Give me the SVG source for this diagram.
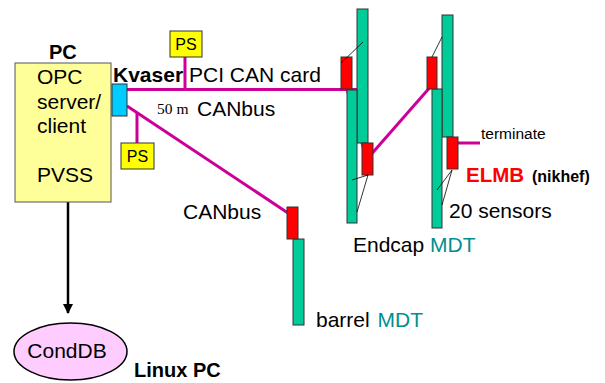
<svg xmlns="http://www.w3.org/2000/svg" width="605" height="383" viewBox="0 0 605 383">
<defs>
<style>
text{font-family:"Liberation Sans",Arial,sans-serif;fill:#000}
text.serif{font-family:"Liberation Serif","Times New Roman",serif}
.b{font-weight:bold}
.mdt{fill:#00CC99;stroke:#333;stroke-width:1}
.elmb{fill:#FF0000;stroke:#333;stroke-width:1}
.bus{stroke:#CC0099;stroke-width:3;fill:none}
.thin{stroke:#000;stroke-width:0.8;fill:none}
.ps{fill:#FFFF00;stroke:#333;stroke-width:1}
.teal{fill:#009090}
text.red{fill:#FF0000}
</style>
<marker id="ah" markerWidth="10" markerHeight="12" refX="9" refY="5" orient="auto" markerUnits="userSpaceOnUse">
<path d="M0,0 L10,5 L0,10 Z" fill="#000"/>
</marker>
</defs>
<rect width="605" height="383" fill="#fff"/>

<g id="connectors">
<line class="bus" x1="127" y1="89.5" x2="357" y2="89.5"/>
<line class="bus" x1="185" y1="57" x2="185" y2="89.5"/>
<line class="bus" x1="127" y1="106" x2="288" y2="213"/>
<line class="bus" x1="137" y1="113" x2="137" y2="143"/>
<line class="bus" x1="347" y1="89" x2="364" y2="150"/>
<line class="bus" x1="368" y1="158" x2="432" y2="85"/>
<line class="bus" x1="437" y1="89" x2="453" y2="143"/>
<line class="bus" x1="453" y1="143" x2="480" y2="143"/>
<line x1="68" y1="202" x2="68" y2="313" stroke="#000" stroke-width="2.5" marker-end="url(#ah)"/>
</g>

<g id="pc">
<rect x="15" y="63" width="96" height="139" fill="#FFFF99" stroke="#555" stroke-width="1"/>
<text x="49" y="59" class="b" font-size="20">PC</text>
<text x="37" y="84" font-size="21">OPC</text>
<text x="37" y="109" font-size="21">server/</text>
<text x="37" y="133" font-size="21">client</text>
<text x="37" y="182" font-size="21">PVSS</text>
</g>

<g id="kvaser">
<rect x="112" y="84" width="15" height="32" fill="#00CCFF" stroke="#333" stroke-width="1"/>
<text x="113" y="82" class="b" font-size="21">Kvaser</text>
<text x="189" y="82" font-size="21">PCI CAN card</text>
</g>

<g id="ps-top">
<rect class="ps" x="170" y="31" width="32" height="26"/>
<text x="186" y="50" font-size="16" text-anchor="middle">PS</text>
</g>

<g id="ps-bottom">
<rect class="ps" x="121" y="143" width="33" height="26"/>
<text x="137.5" y="162" font-size="16" text-anchor="middle">PS</text>
</g>

<g id="canbus-label">
<text x="157" y="114" class="serif" font-size="15.5">50 m</text>
<text x="197" y="116" font-size="21">CANbus</text>
</g>

<g id="barrel">
<rect class="mdt" x="293" y="239" width="11" height="86"/>
<rect class="elmb" x="287" y="207" width="11" height="32"/>
<text x="183" y="219" font-size="21">CANbus</text>
<text x="316" y="327" font-size="21">barrel <tspan class="teal" dx="2">MDT</tspan></text>
</g>

<g id="endcap1">
<rect class="mdt" x="357" y="9" width="11" height="134"/>
<rect class="mdt" x="347" y="90" width="10" height="133"/>
<rect class="elmb" x="341" y="57" width="11" height="32"/>
<rect class="elmb" x="362" y="143" width="11" height="32"/>
<line class="thin" x1="341" y1="63" x2="363" y2="42"/>
<line class="thin" x1="368" y1="175" x2="352" y2="180"/>
<line class="thin" x1="368" y1="175" x2="357" y2="212"/>
<text x="353" y="252" font-size="21">Endcap <tspan class="teal">MDT</tspan></text>
</g>

<g id="endcap2">
<rect class="mdt" x="442" y="15" width="11" height="122"/>
<rect class="mdt" x="432" y="89" width="10" height="139"/>
<rect class="elmb" x="427" y="57" width="10" height="32"/>
<rect class="elmb" x="447" y="137" width="11" height="32"/>
<line class="thin" x1="432" y1="57" x2="442" y2="37"/>
<line class="thin" x1="452" y1="170" x2="437" y2="190"/>
<line class="thin" x1="452" y1="170" x2="442" y2="205"/>
<text x="481" y="139" font-size="15.5">terminate</text>
<text x="466" y="182" class="b red" font-size="20.5">ELMB</text>
<text x="532" y="182" class="b" font-size="16">(nikhef)</text>
<text x="449" y="218" font-size="21">20 sensors</text>
</g>

<g id="conddb">
<ellipse cx="70.5" cy="351.5" rx="56.5" ry="28.5" fill="#FFCCFF" stroke="#000" stroke-width="1.5"/>
<text x="67" y="358" font-size="21" text-anchor="middle">CondDB</text>
<text x="134" y="377" class="b" font-size="20">Linux PC</text>
</g>
</svg>
